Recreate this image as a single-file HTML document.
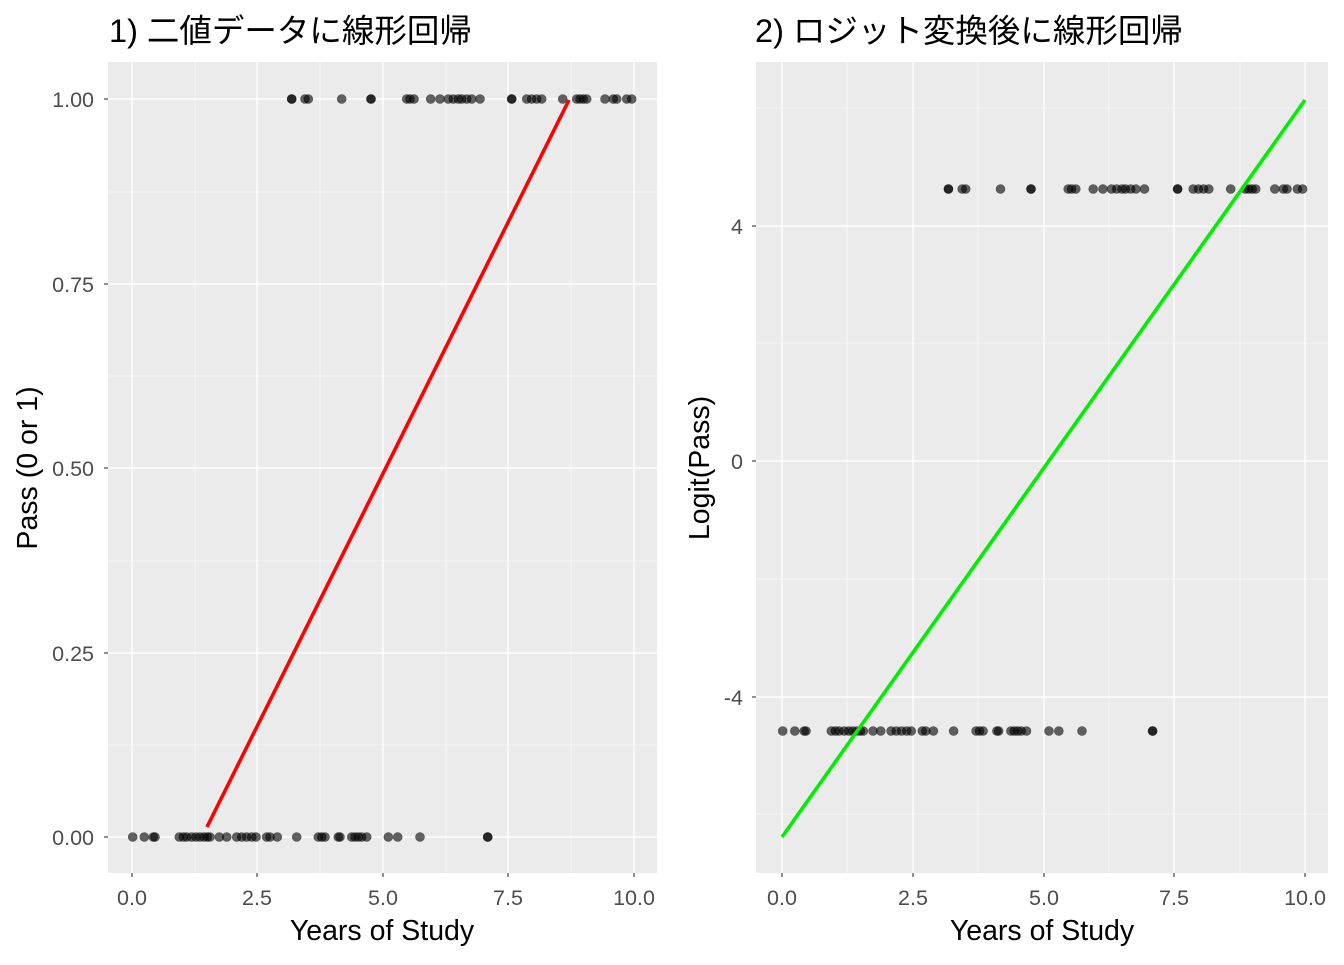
<!DOCTYPE html>
<html><head><meta charset="utf-8"><style>
html,body{margin:0;padding:0;background:#fff;}
svg text{font-family:"Liberation Sans","Noto Sans CJK JP",sans-serif;}
</style></head><body>
<svg width="1344" height="960" xmlns="http://www.w3.org/2000/svg">
<rect width="1344" height="960" fill="#fff"/>
<!-- Panel 1 -->
<text x="109" y="42" font-size="32.5" fill="#000">1) 二値データに線形回帰</text>
<rect x="108" y="62" width="549" height="811" fill="#ebebeb"/>
<g stroke="#fff" stroke-width="0.6">
<line x1="108" x2="657" y1="745" y2="745"/><line x1="108" x2="657" y1="561" y2="561"/><line x1="108" x2="657" y1="376" y2="376"/><line x1="108" x2="657" y1="192" y2="192"/>
<line x1="195" x2="195" y1="62" y2="873"/><line x1="320" x2="320" y1="62" y2="873"/><line x1="446" x2="446" y1="62" y2="873"/><line x1="571" x2="571" y1="62" y2="873"/>
</g>
<g stroke="#fff" stroke-width="1.3">
<line x1="108" x2="657" y1="837" y2="837"/><line x1="108" x2="657" y1="653" y2="653"/><line x1="108" x2="657" y1="468" y2="468"/><line x1="108" x2="657" y1="284" y2="284"/><line x1="108" x2="657" y1="99" y2="99"/>
<line x1="132" x2="132" y1="62" y2="873"/><line x1="257" x2="257" y1="62" y2="873"/><line x1="383" x2="383" y1="62" y2="873"/><line x1="508" x2="508" y1="62" y2="873"/><line x1="634" x2="634" y1="62" y2="873"/>
</g>
<g stroke="#333" stroke-width="1.1">
<line x1="104" x2="108" y1="837" y2="837"/><line x1="104" x2="108" y1="653" y2="653"/><line x1="104" x2="108" y1="468" y2="468"/><line x1="104" x2="108" y1="284" y2="284"/><line x1="104" x2="108" y1="99" y2="99"/>
<line x1="132" x2="132" y1="873" y2="877"/><line x1="257" x2="257" y1="873" y2="877"/><line x1="383" x2="383" y1="873" y2="877"/><line x1="508" x2="508" y1="873" y2="877"/><line x1="634" x2="634" y1="873" y2="877"/>
</g>
<g font-size="21.5" fill="#4d4d4d" text-anchor="end">
<text x="94" y="845">0.00</text><text x="94" y="661">0.25</text><text x="94" y="476">0.50</text><text x="94" y="292">0.75</text><text x="94" y="107">1.00</text>
</g>
<g font-size="21.5" fill="#4d4d4d" text-anchor="middle">
<text x="132" y="905">0.0</text><text x="257" y="905">2.5</text><text x="383" y="905">5.0</text><text x="508" y="905">7.5</text><text x="634" y="905">10.0</text>
</g>
<text x="382" y="940" font-size="28.5" text-anchor="middle" fill="#000">Years of Study</text>
<text transform="translate(37,468) rotate(-90)" font-size="28.5" text-anchor="middle" fill="#000">Pass (0 or 1)</text>
<g fill="rgba(0,0,0,0.6)" stroke="rgba(0,0,0,0.5)" stroke-width="0.6">
<circle cx="132.7" cy="837" r="4.5"/><circle cx="144.3" cy="837" r="4.5"/><circle cx="153.3" cy="837" r="4.5"/><circle cx="155" cy="837" r="4.5"/><circle cx="179.3" cy="837" r="4.5"/><circle cx="183.3" cy="837" r="4.5"/><circle cx="186.7" cy="837" r="4.5"/><circle cx="191.7" cy="837" r="4.5"/><circle cx="196" cy="837" r="4.5"/><circle cx="200" cy="837" r="4.5"/><circle cx="204" cy="837" r="4.5"/><circle cx="207.3" cy="837" r="4.5"/><circle cx="210" cy="837" r="4.5"/><circle cx="219.3" cy="837" r="4.5"/><circle cx="226.7" cy="837" r="4.5"/><circle cx="236.7" cy="837" r="4.5"/><circle cx="241.7" cy="837" r="4.5"/><circle cx="246.7" cy="837" r="4.5"/><circle cx="251.7" cy="837" r="4.5"/><circle cx="256" cy="837" r="4.5"/><circle cx="266.7" cy="837" r="4.5"/><circle cx="270" cy="837" r="4.5"/><circle cx="277.3" cy="837" r="4.5"/><circle cx="296.7" cy="837" r="4.5"/><circle cx="318.3" cy="837" r="4.5"/><circle cx="321.7" cy="837" r="4.5"/><circle cx="325" cy="837" r="4.5"/><circle cx="338.3" cy="837" r="4.5"/><circle cx="340" cy="837" r="4.5"/><circle cx="351.7" cy="837" r="4.5"/><circle cx="355" cy="837" r="4.5"/><circle cx="358.3" cy="837" r="4.5"/><circle cx="361.7" cy="837" r="4.5"/><circle cx="366.7" cy="837" r="4.5"/><circle cx="388.3" cy="837" r="4.5"/><circle cx="397.7" cy="837" r="4.5"/><circle cx="420" cy="837" r="4.5"/><circle cx="487.7" cy="837" r="4.5"/><circle cx="487.7" cy="837" r="4.5"/>
<circle cx="291.7" cy="99" r="4.5"/><circle cx="291.7" cy="99" r="4.5"/><circle cx="305" cy="99" r="4.5"/><circle cx="308.3" cy="99" r="4.5"/><circle cx="341.7" cy="99" r="4.5"/><circle cx="371" cy="99" r="4.5"/><circle cx="371" cy="99" r="4.5"/><circle cx="406.7" cy="99" r="4.5"/><circle cx="410" cy="99" r="4.5"/><circle cx="414" cy="99" r="4.5"/><circle cx="430.7" cy="99" r="4.5"/><circle cx="440" cy="99" r="4.5"/><circle cx="448.3" cy="99" r="4.5"/><circle cx="453.3" cy="99" r="4.5"/><circle cx="458.3" cy="99" r="4.5"/><circle cx="461.7" cy="99" r="4.5"/><circle cx="466.7" cy="99" r="4.5"/><circle cx="471.7" cy="99" r="4.5"/><circle cx="480" cy="99" r="4.5"/><circle cx="511.7" cy="99" r="4.5"/><circle cx="511.7" cy="99" r="4.5"/><circle cx="526.7" cy="99" r="4.5"/><circle cx="531.7" cy="99" r="4.5"/><circle cx="536.7" cy="99" r="4.5"/><circle cx="541.7" cy="99" r="4.5"/><circle cx="562.7" cy="99" r="4.5"/><circle cx="576.7" cy="99" r="4.5"/><circle cx="580" cy="99" r="4.5"/><circle cx="583.3" cy="99" r="4.5"/><circle cx="586.7" cy="99" r="4.5"/><circle cx="605" cy="99" r="4.5"/><circle cx="613.3" cy="99" r="4.5"/><circle cx="616.7" cy="99" r="4.5"/><circle cx="626.7" cy="99" r="4.5"/><circle cx="631.7" cy="99" r="4.5"/>
</g>
<line x1="207" y1="827" x2="569" y2="100" stroke="#ff0000" stroke-width="3.6"/>

<!-- Panel 2 -->
<text x="755" y="42" font-size="32.5" fill="#000">2) ロジット変換後に線形回帰</text>
<rect x="756" y="62" width="572" height="811" fill="#ebebeb"/>
<g stroke="#fff" stroke-width="0.6">
<line x1="756" x2="1328" y1="814" y2="814"/><line x1="756" x2="1328" y1="579" y2="579"/><line x1="756" x2="1328" y1="343" y2="343"/><line x1="756" x2="1328" y1="108" y2="108"/>
<line x1="847" x2="847" y1="62" y2="873"/><line x1="978" x2="978" y1="62" y2="873"/><line x1="1109" x2="1109" y1="62" y2="873"/><line x1="1240" x2="1240" y1="62" y2="873"/>
</g>
<g stroke="#fff" stroke-width="1.3">
<line x1="756" x2="1328" y1="697" y2="697"/><line x1="756" x2="1328" y1="461" y2="461"/><line x1="756" x2="1328" y1="226" y2="226"/>
<line x1="782" x2="782" y1="62" y2="873"/><line x1="913" x2="913" y1="62" y2="873"/><line x1="1044" x2="1044" y1="62" y2="873"/><line x1="1174" x2="1174" y1="62" y2="873"/><line x1="1305" x2="1305" y1="62" y2="873"/>
</g>
<g stroke="#333" stroke-width="1.1">
<line x1="752" x2="756" y1="697" y2="697"/><line x1="752" x2="756" y1="461" y2="461"/><line x1="752" x2="756" y1="226" y2="226"/>
<line x1="782" x2="782" y1="873" y2="877"/><line x1="913" x2="913" y1="873" y2="877"/><line x1="1044" x2="1044" y1="873" y2="877"/><line x1="1174" x2="1174" y1="873" y2="877"/><line x1="1305" x2="1305" y1="873" y2="877"/>
</g>
<g font-size="21.5" fill="#4d4d4d" text-anchor="end">
<text x="743" y="705">-4</text><text x="743" y="469">0</text><text x="743" y="234">4</text>
</g>
<g font-size="21.5" fill="#4d4d4d" text-anchor="middle">
<text x="782" y="905">0.0</text><text x="913" y="905">2.5</text><text x="1044" y="905">5.0</text><text x="1174" y="905">7.5</text><text x="1305" y="905">10.0</text>
</g>
<text x="1042" y="940" font-size="28.5" text-anchor="middle" fill="#000">Years of Study</text>
<text transform="translate(709,468) rotate(-90)" font-size="28.5" text-anchor="middle" fill="#000">Logit(Pass)</text>
<g fill="rgba(0,0,0,0.6)" stroke="rgba(0,0,0,0.5)" stroke-width="0.6">
<circle cx="782.7" cy="731" r="4.5"/><circle cx="794.8" cy="731" r="4.5"/><circle cx="804.2" cy="731" r="4.5"/><circle cx="806" cy="731" r="4.5"/><circle cx="831.3" cy="731" r="4.5"/><circle cx="835.4" cy="731" r="4.5"/><circle cx="839" cy="731" r="4.5"/><circle cx="844.2" cy="731" r="4.5"/><circle cx="848.7" cy="731" r="4.5"/><circle cx="852.8" cy="731" r="4.5"/><circle cx="857" cy="731" r="4.5"/><circle cx="860.4" cy="731" r="4.5"/><circle cx="863.3" cy="731" r="4.5"/><circle cx="873" cy="731" r="4.5"/><circle cx="880.7" cy="731" r="4.5"/><circle cx="891.1" cy="731" r="4.5"/><circle cx="896.3" cy="731" r="4.5"/><circle cx="901.5" cy="731" r="4.5"/><circle cx="906.7" cy="731" r="4.5"/><circle cx="911.2" cy="731" r="4.5"/><circle cx="922.3" cy="731" r="4.5"/><circle cx="925.8" cy="731" r="4.5"/><circle cx="933.4" cy="731" r="4.5"/><circle cx="953.6" cy="731" r="4.5"/><circle cx="976.1" cy="731" r="4.5"/><circle cx="979.6" cy="731" r="4.5"/><circle cx="983.1" cy="731" r="4.5"/><circle cx="996.9" cy="731" r="4.5"/><circle cx="998.6" cy="731" r="4.5"/><circle cx="1010.9" cy="731" r="4.5"/><circle cx="1014.3" cy="731" r="4.5"/><circle cx="1017.8" cy="731" r="4.5"/><circle cx="1021.3" cy="731" r="4.5"/><circle cx="1026.5" cy="731" r="4.5"/><circle cx="1049" cy="731" r="4.5"/><circle cx="1058.8" cy="731" r="4.5"/><circle cx="1082" cy="731" r="4.5"/><circle cx="1152.6" cy="731" r="4.5"/><circle cx="1152.6" cy="731" r="4.5"/>
<circle cx="948.4" cy="189" r="4.5"/><circle cx="948.4" cy="189" r="4.5"/><circle cx="962.2" cy="189" r="4.5"/><circle cx="965.7" cy="189" r="4.5"/><circle cx="1000.5" cy="189" r="4.5"/><circle cx="1031" cy="189" r="4.5"/><circle cx="1031" cy="189" r="4.5"/><circle cx="1068.2" cy="189" r="4.5"/><circle cx="1071.6" cy="189" r="4.5"/><circle cx="1075.8" cy="189" r="4.5"/><circle cx="1093.2" cy="189" r="4.5"/><circle cx="1102.9" cy="189" r="4.5"/><circle cx="1111.5" cy="189" r="4.5"/><circle cx="1116.7" cy="189" r="4.5"/><circle cx="1122" cy="189" r="4.5"/><circle cx="1125.5" cy="189" r="4.5"/><circle cx="1130.7" cy="189" r="4.5"/><circle cx="1135.9" cy="189" r="4.5"/><circle cx="1144.5" cy="189" r="4.5"/><circle cx="1177.6" cy="189" r="4.5"/><circle cx="1177.6" cy="189" r="4.5"/><circle cx="1193.2" cy="189" r="4.5"/><circle cx="1198.4" cy="189" r="4.5"/><circle cx="1203.6" cy="189" r="4.5"/><circle cx="1208.8" cy="189" r="4.5"/><circle cx="1230.7" cy="189" r="4.5"/><circle cx="1245.3" cy="189" r="4.5"/><circle cx="1248.7" cy="189" r="4.5"/><circle cx="1252.2" cy="189" r="4.5"/><circle cx="1255.7" cy="189" r="4.5"/><circle cx="1274.8" cy="189" r="4.5"/><circle cx="1283.4" cy="189" r="4.5"/><circle cx="1287" cy="189" r="4.5"/><circle cx="1297.4" cy="189" r="4.5"/><circle cx="1302.6" cy="189" r="4.5"/>
</g>
<line x1="782" y1="837" x2="1305" y2="100" stroke="#00ee00" stroke-width="3.6"/>
</svg>
</body></html>
